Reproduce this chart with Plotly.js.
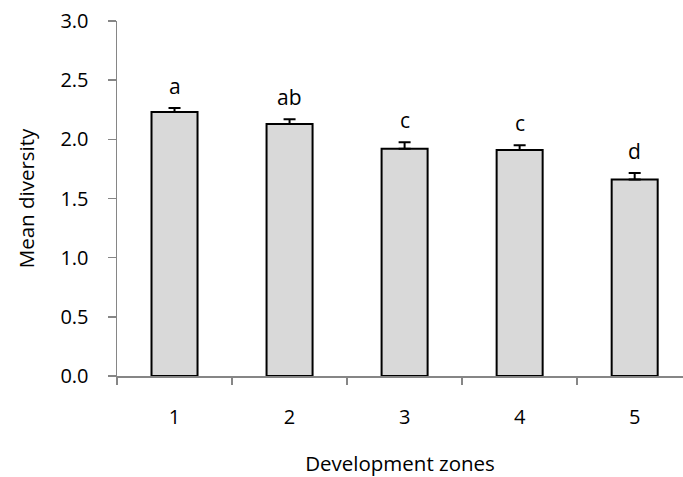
<!DOCTYPE html>
<html>
<head>
<meta charset="utf-8">
<script src="https://cdn.plot.ly/plotly-3.0.1.min.js"></script>
<style>html,body{margin:0;padding:0;background:#fff;}#chart{width:683px;height:477px;}</style>
</head>
<body>
<div id="chart"></div>
<script>
const zones = ['1', '2', '3', '4', '5'];
const meanDiversity = [2.23, 2.13, 1.92, 1.91, 1.66];
const seUpper = [0.035, 0.04, 0.055, 0.04, 0.055];
const seLower = [0, 0, 0, 0, 0];
const groupLetters = ['a', 'ab', 'c', 'c', 'd'];

const FONT = 'Open Sans, Noto Sans, sans-serif';

const trace = {
  type: 'bar',
  x: zones,
  y: meanDiversity,
  width: 0.4,
  marker: { color: '#d9d9d9', line: { color: '#000000', width: 2 } },
  error_y: { type: 'data', symmetric: false, array: seUpper, arrayminus: seLower,
             color: '#000000', thickness: 2, width: 6 },
  hoverinfo: 'none'
};

const annotations = zones.map((z, i) => ({
  x: i, y: meanDiversity[i] + seUpper[i], xref: 'x', yref: 'y',
  text: groupLetters[i], showarrow: false, yanchor: 'bottom', xanchor: 'center',
  yshift: 6, font: { family: FONT, size: 21, color: '#000' }
}));

const layout = {
  width: 683, height: 477,
  margin: { l: 117, r: 0, t: 21, b: 101 },
  paper_bgcolor: '#ffffff', plot_bgcolor: '#ffffff',
  showlegend: false,
  font: { family: FONT, size: 21, color: '#000' },
  xaxis: {
    type: 'category',
    range: [-0.5, 4.42],
    tickson: 'boundaries',
    ticks: 'outside', ticklen: 7, tickcolor: '#868686', tickwidth: 1.5,
    showline: true, linecolor: '#868686', linewidth: 1.5,
    showgrid: false, zeroline: false,
    ticklabelstandoff: 22,
    tickfont: { family: FONT, size: 20, color: '#000' },
    title: { text: 'Development zones', standoff: 28, font: { family: FONT, size: 20.5, color: '#000' } },
    fixedrange: true
  },
  yaxis: {
    range: [0, 3], dtick: 0.5, tick0: 0, tickformat: '.1f',
    ticks: 'outside', ticklen: 8, tickcolor: '#868686', tickwidth: 1.5,
    showline: true, linecolor: '#868686', linewidth: 1.5,
    showgrid: false, zeroline: false,
    ticklabelstandoff: 15,
    tickfont: { family: FONT, size: 20, color: '#000' },
    title: { text: 'Mean diversity', standoff: 20, font: { family: FONT, size: 20.5, color: '#000' } },
    fixedrange: true
  },
  annotations: annotations
};

Plotly.newPlot('chart', [trace], layout, { staticPlot: true, displayModeBar: false });
</script>
</body>
</html>
